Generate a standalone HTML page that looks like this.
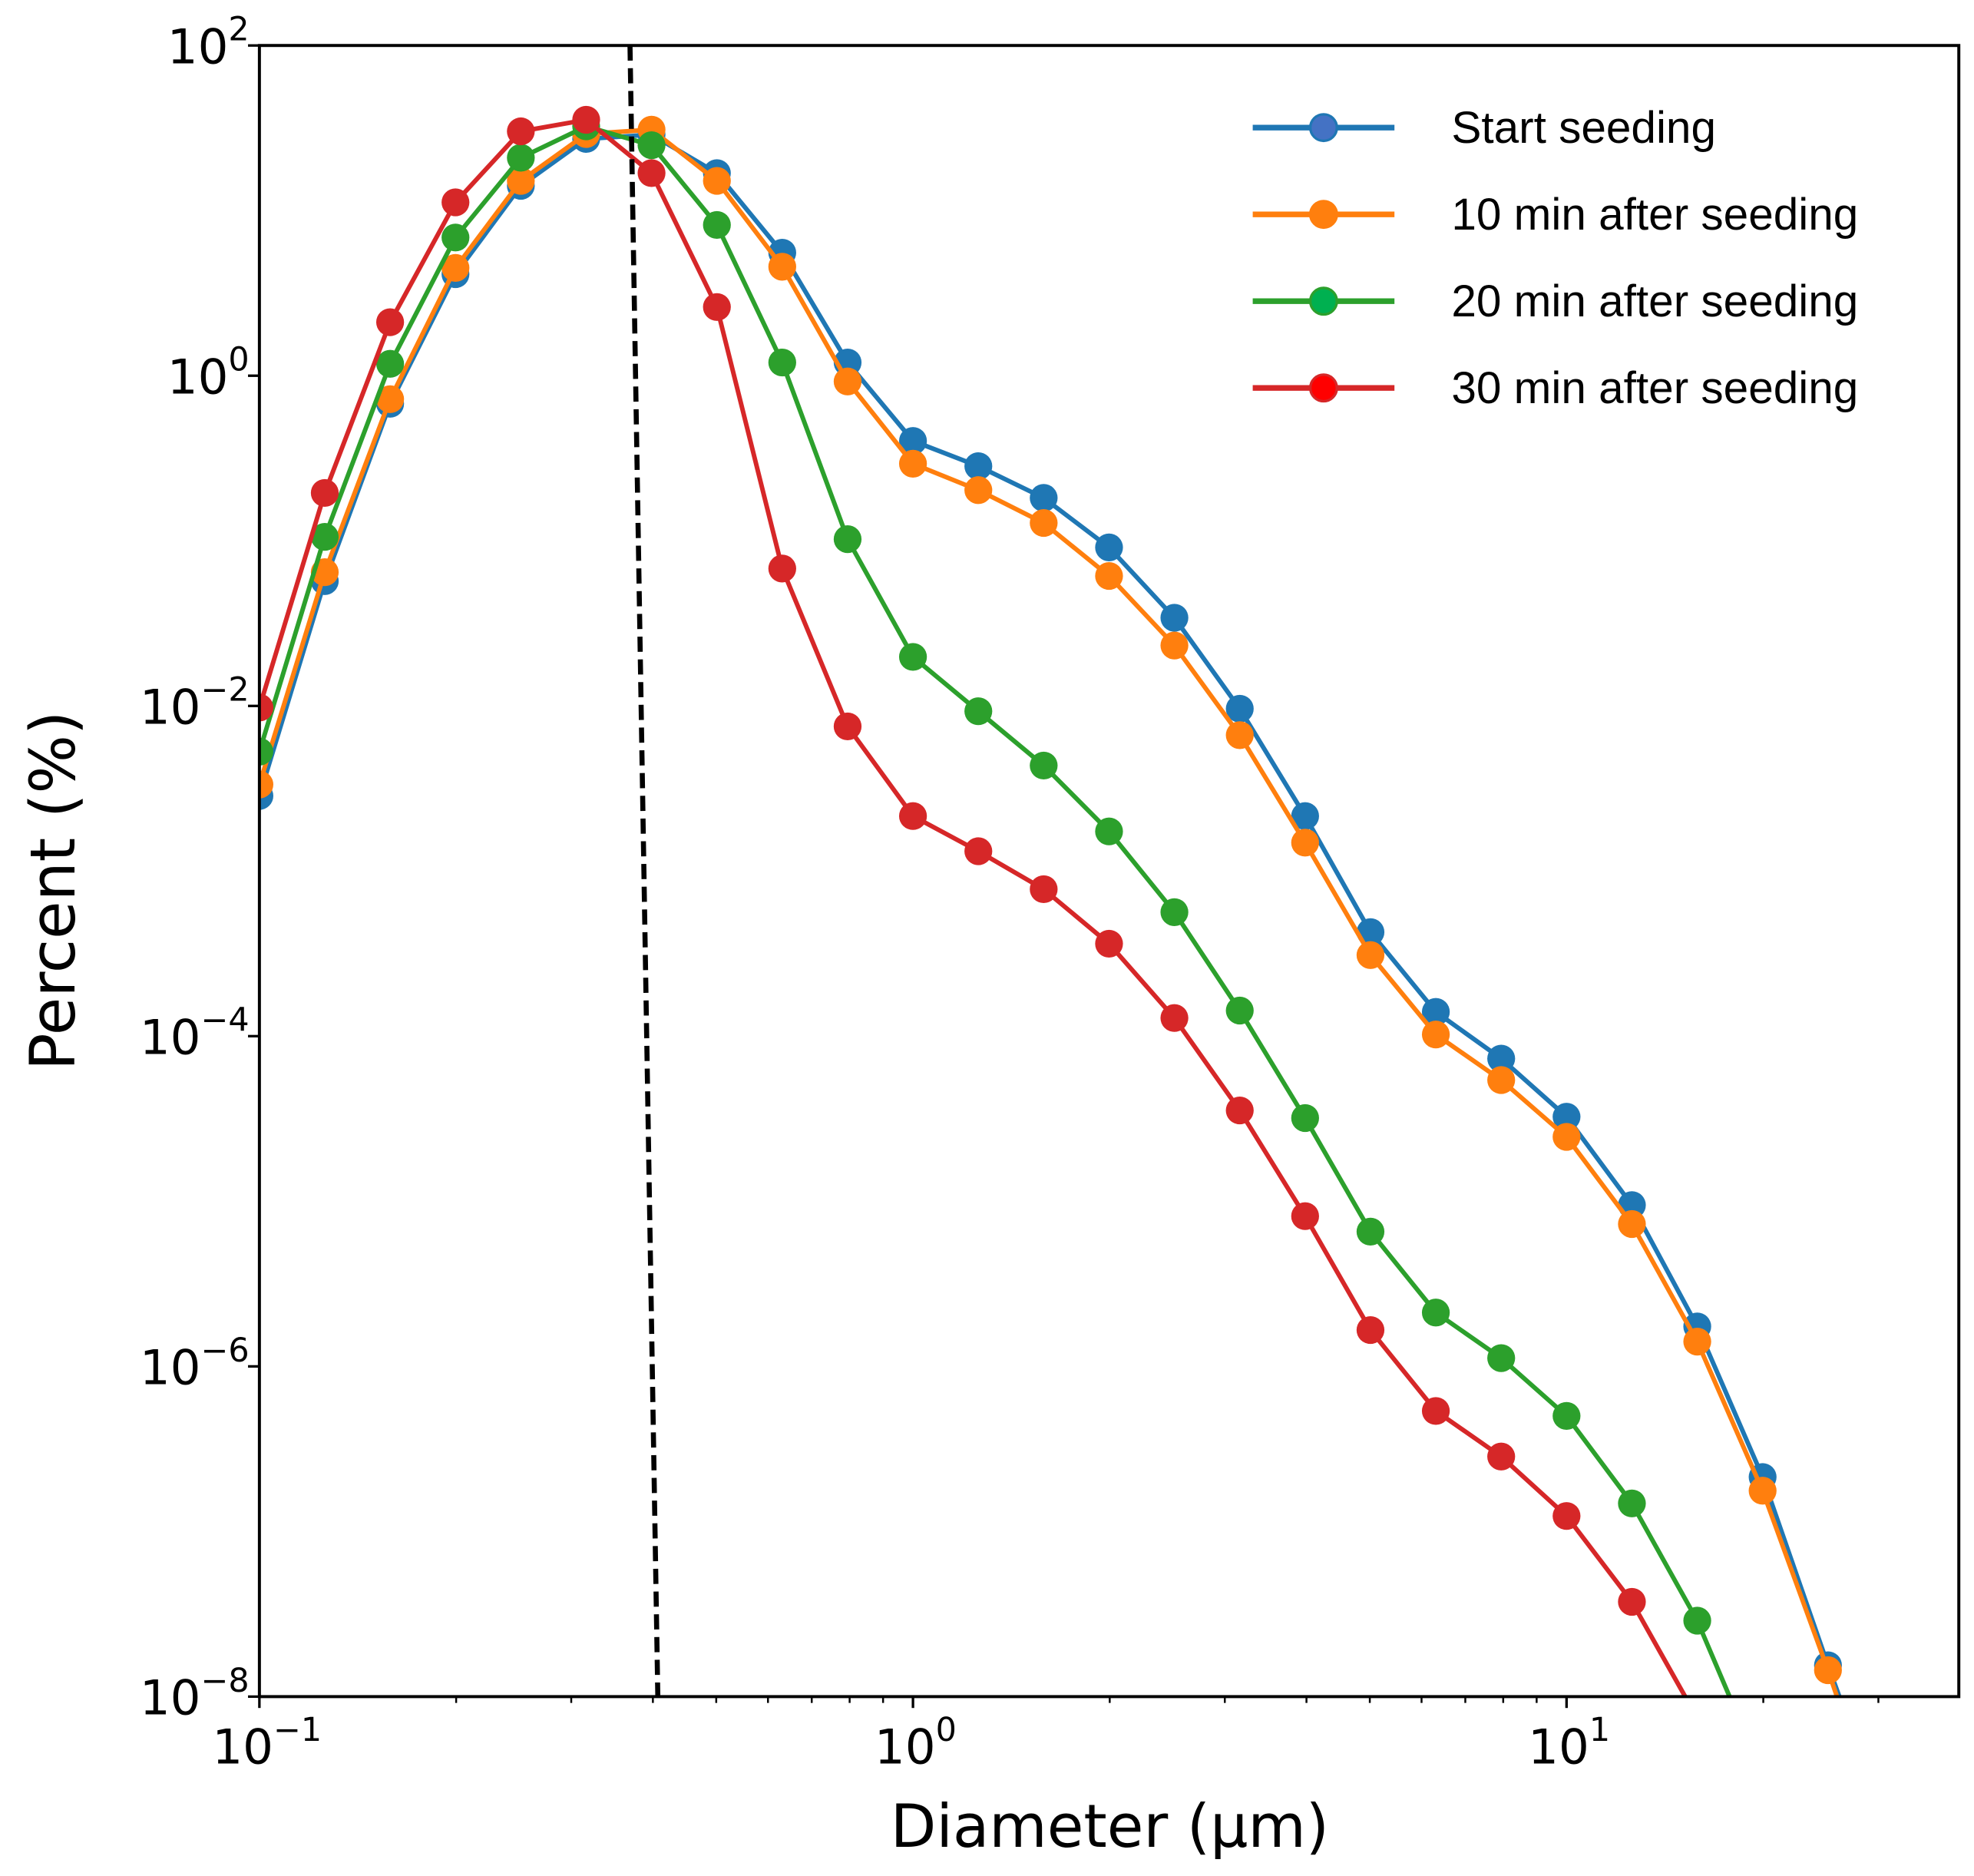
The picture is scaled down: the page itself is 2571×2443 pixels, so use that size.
<!DOCTYPE html>
<html><head><meta charset="utf-8"><style>
html,body{margin:0;padding:0;background:#fff;}
svg{display:block;font-family:"DejaVu Sans","Liberation Sans",sans-serif;}
</style></head><body>
<svg id="chart" width="2571" height="2443" viewBox="0 0 1560 1485" preserveAspectRatio="none" xmlns="http://www.w3.org/2000/svg">
<rect width="1560" height="1485" fill="#fff"/>
<defs><clipPath id="pc"><rect x="205" y="36" width="1343" height="1307"/></clipPath></defs>
<g id="series" clip-path="url(#pc)"></g>
<g id="axes"></g>
<g id="legend"></g>
</svg>
<script>
const seriesNames = ["Start seeding","10 min after seeding","20 min after seeding","30 min after seeding"];
const seriesColors = ["#1f77b4","#ff7f0e","#2ca02c","#d62728"];
const legendFill = ["#4472c4","#ff7f0e","#00b050","#ff0000"];
// x = 0.1*10^(i/10); values are log10(percent)
const logStart = [-2.545,-1.244,-0.17,0.615,1.15,1.434,1.46,1.227,0.745,0.08,-0.395,-0.548,-0.74,-1.04,-1.466,-2.017,-2.667,-3.37,-3.853,-4.136,-4.488,-5.023,-5.758,-6.67,-7.81,-8.9];
const log10min = [-2.476,-1.19,-0.142,0.653,1.18,1.464,1.49,1.18,0.66,-0.035,-0.533,-0.693,-0.892,-1.213,-1.634,-2.177,-2.828,-3.509,-3.99,-4.266,-4.61,-5.138,-5.85,-6.753,-7.84,-9.0];
const log20min = [-2.277,-0.976,0.072,0.837,1.32,1.51,1.396,0.913,0.08,-0.99,-1.703,-2.032,-2.361,-2.76,-3.249,-3.845,-4.496,-5.184,-5.674,-5.95,-6.3,-6.83,-7.54,-8.47];
const log30min = [-2.01,-0.71,0.324,1.05,1.48,1.55,1.227,0.416,-1.168,-2.124,-2.667,-2.88,-3.11,-3.44,-3.89,-4.45,-5.09,-5.78,-6.27,-6.546,-6.906,-7.426,-8.13];
const seriesLogs = [logStart,log10min,log20min,log30min];
const cutoffX = [0.369,0.407];
const cutoffY = [2,-8];
const xTickExps = [-1,0,1];
const yTickExps = [2,0,-2,-4,-6,-8];

const NS="http://www.w3.org/2000/svg";
const L=205,R=1548,T=36,B=1343;
const xLogMin=-1, decX=516.5;
const yLogMax=2, decY=(B-T)/10;
function xs(v){return L+(Math.log10(v)-xLogMin)*decX;}
function xl(lv){return L+(lv-xLogMin)*decX;}
function ys(lv){return T+(yLogMax-lv)*decY;}
function mk(tag,attrs,parent){const e=document.createElementNS(NS,tag);for(const k in attrs)e.setAttribute(k,attrs[k]);parent.appendChild(e);return e;}

const sg=document.getElementById('series');
seriesLogs.forEach((arr,si)=>{
  const pts=arr.map((v,i)=>[xs(0.1*Math.pow(10,i/10)),ys(v)]);
  const pl=mk('polyline',{points:pts.map(p=>p.join(',')).join(' '),fill:'none',stroke:seriesColors[si],'stroke-width':3.6,'stroke-linejoin':'round'},sg);
  
  
  pts.forEach((p,i)=>{
    const c=mk('circle',{cx:p[0],cy:p[1],r:11,fill:seriesColors[si]},sg);
    
    
  });
});
const dl=mk('line',{x1:xs(cutoffX[0]),y1:ys(cutoffY[0]),x2:xs(cutoffX[1]),y2:ys(cutoffY[1]),stroke:'#000','stroke-width':4,'stroke-dasharray':'12,6'},sg);



const ax=document.getElementById('axes');
const fr=mk('rect',{x:L,y:T,width:R-L,height:B-T,fill:'none',stroke:'#000','stroke-width':2.4},ax);


for(let e=-1;e<=1;e++){for(let m=1;m<10;m++){const v=m*Math.pow(10,e);const x=xs(v);if(x>R+0.5)continue;
  const len=m===1?9:5;mk('line',{x1:x,y1:B,x2:x,y2:B+len,stroke:'#000','stroke-width':m===1?2:1.5},ax);}}
xTickExps.forEach(e=>{
  const t=mk('text',{x:xl(e)+(e<0?6:2),y:B+53,'font-size':38,'text-anchor':'middle'},ax);
  
  
  t.innerHTML='10<tspan dy="-18" font-size="26">'+(e<0?'\u2212'+(-e):e)+'</tspan>';
});
for(let e=-8;e<=2;e+=2){const y=ys(e);mk('line',{x1:L,y1:y,x2:L-9,y2:y,stroke:'#000','stroke-width':2},ax);}
yTickExps.forEach(e=>{
  const t=mk('text',{x:L-8,y:ys(e)+14,'font-size':38,'text-anchor':'end'},ax);
  
  
  t.innerHTML='10<tspan dy="-18" font-size="26">'+(e<0?'\u2212'+(-e):e)+'</tspan>';
});
const xt=mk('text',{x:877,y:1462,'font-size':47,'text-anchor':'middle'},ax);


xt.textContent='Diameter (\u00b5m)';
const yt=mk('text',{x:0,y:0,'font-size':49,'text-anchor':'middle',transform:'translate(59,705) rotate(-90)'},ax);


yt.textContent='Percent (%)';

const lg=document.getElementById('legend');
seriesNames.forEach((n,i)=>{
  const y=101+i*68.7;
  const g=mk('g',{},lg);
  
  
  mk('line',{x1:990,y1:y,x2:1102,y2:y,stroke:seriesColors[i],'stroke-width':4.5},g);
  mk('circle',{cx:1046,cy:y,r:10.5,fill:legendFill[i],stroke:seriesColors[i],'stroke-width':2},g);
  const t=mk('text',{x:1147,y:y+12,'font-size':35.5,'font-family':'Liberation Sans, sans-serif'},g);
  t.textContent=n;
});
</script>
</body></html>
